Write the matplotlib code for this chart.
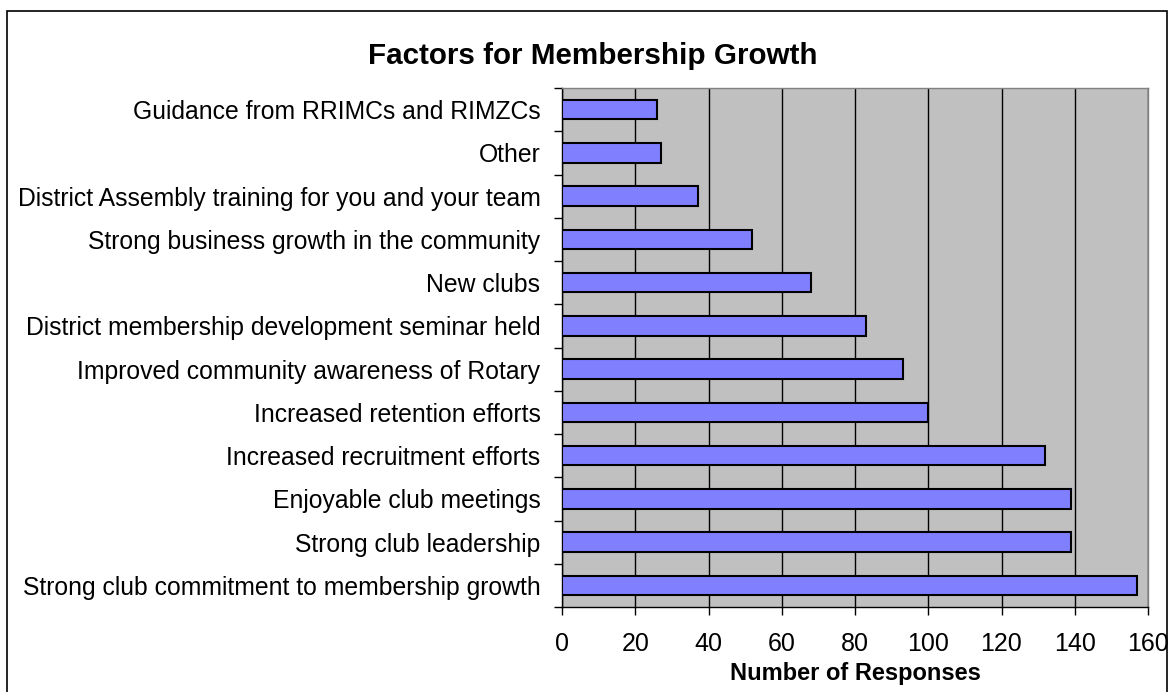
import matplotlib
matplotlib.use("Agg")
import matplotlib.pyplot as plt
from matplotlib.patches import Rectangle
from matplotlib.ticker import FixedLocator

plt.rcParams['font.family'] = ['Liberation Sans', 'DejaVu Sans']

factors = [
    "Guidance from RRIMCs and RIMZCs",
    "Other",
    "District Assembly training for you and your team",
    "Strong business growth in the community",
    "New clubs",
    "District membership development seminar held",
    "Improved community awareness of Rotary",
    "Increased retention efforts",
    "Increased recruitment efforts",
    "Enjoyable club meetings",
    "Strong club leadership",
    "Strong club commitment to membership growth",
]
responses = [26, 27, 37, 52, 68, 83, 93, 100, 132, 139, 139, 157]
x_ticks = [0, 20, 40, 60, 80, 100, 120, 140, 160]

W, H = 1174, 692
fig = plt.figure(figsize=(W / 100, H / 100), dpi=100)
fig.patch.set_facecolor("white")

# outer chart frame
fig.patches.append(Rectangle((7 / W, -0.02), (1167 - 7) / W, 1 - 11 / H + 0.02,
                             transform=fig.transFigure, fill=False,
                             edgecolor="black", linewidth=1.2))

left, right, top, bottom = 562, 1148, 88, 607
ax = fig.add_axes([left / W, 1 - bottom / H, (right - left) / W, (bottom - top) / H])
ax.set_facecolor("#C0C0C0")

n = len(factors)
ypos = list(range(n))
ax.barh(ypos, responses, height=0.45, color="#8080FF", edgecolor="black",
        linewidth=1.5, zorder=3)

ax.set_xlim(0, 160)
ax.set_ylim(n - 0.5, -0.5)
ax.set_xticks(x_ticks)
ax.set_xticklabels([str(t) for t in x_ticks], fontsize=18)
ax.xaxis.grid(True, color="black", linewidth=1.0, zorder=1)
ax.set_axisbelow(True)

ax.set_yticks(ypos)
ax.set_yticklabels(factors, fontsize=17.8)
ax.yaxis.set_minor_locator(FixedLocator([i - 0.5 for i in range(n + 1)]))
ax.tick_params(axis="y", which="major", length=0, pad=15.5)
ax.tick_params(axis="y", which="minor", length=6, width=1, direction="out", color="black")
ax.tick_params(axis="x", which="major", length=6, width=1, direction="out", pad=12)

for side in ("left", "bottom"):
    ax.spines[side].set_color("black")
    ax.spines[side].set_linewidth(1.0)
for side in ("top", "right"):
    ax.spines[side].set_color("#808080")
    ax.spines[side].set_linewidth(1.0)

ax.set_xlabel("Number of Responses", fontsize=17, fontweight="bold", labelpad=4)
fig.text(593 / W, 1 - 56 / H, "Factors for Membership Growth", fontsize=21.3,
         fontweight="bold", ha="center", va="center")

fig.savefig("out.png", dpi=100)
